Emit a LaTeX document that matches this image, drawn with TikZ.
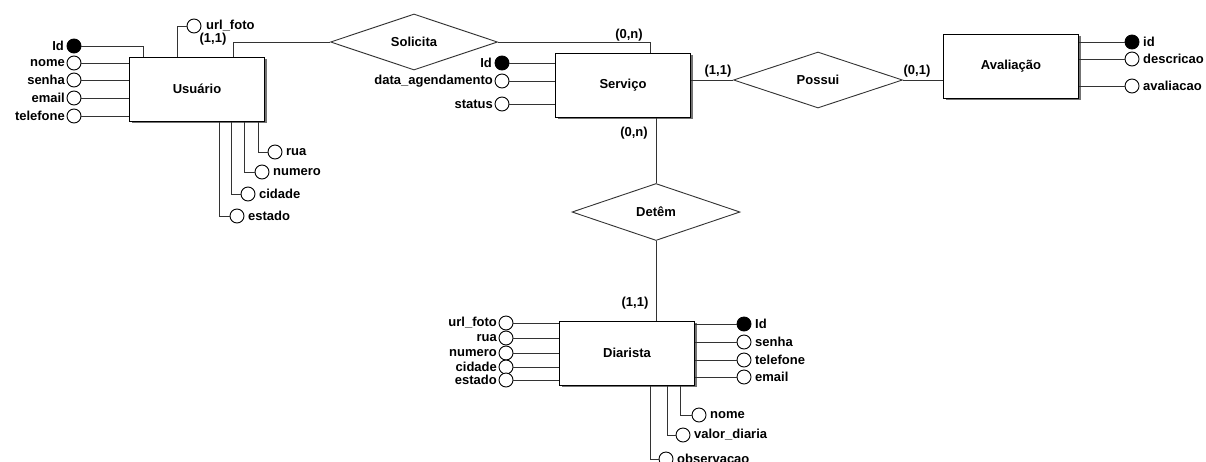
\documentclass[tikz,border=0pt]{standalone}
\usepackage{fontspec}
\setmainfont{Liberation Sans}
\usetikzlibrary{shapes.geometric,shadows,calc}
\definecolor{linec}{HTML}{333333}
\begin{document}
\begin{tikzpicture}[x=1pt,y=-1pt,
  font=\bfseries\fontsize{13}{13}\selectfont,
  entity/.style={draw=black,line width=1pt,fill=white,minimum width=135pt,minimum height=64pt,inner sep=0pt,
    drop shadow={shadow xshift=2pt,shadow yshift=-2pt,fill=black,opacity=0.55}},
  rel/.style={diamond,draw=linec,line width=0.9pt,fill=white,inner sep=0pt,aspect=3},
  attr/.style={circle,draw=black,line width=0.9pt,fill=white,minimum size=14pt,inner sep=0pt},
  key/.style={attr,fill=black},
  conn/.style={draw=linec,line width=0.9pt},
  lbl/.style={inner sep=0.5pt},
  card/.style={inner sep=0pt}
]
\useasboundingbox (0,0) rectangle (1206,461);
% entities
\node[entity] (usu) at (197,89) {Usuário};
\node[entity] (serv) at (623,85) {Serviço};
\node[entity] (aval) at (1011,66) {Avaliação};
\node[entity] (diar) at (627,353) {Diarista};
% relationships
\node[rel,minimum width=167pt,minimum height=56pt] (sol) at (414,42) {Solicita};
\node[rel,minimum width=169pt,minimum height=56pt] (pos) at (818,80) {Possui};
\node[rel,minimum width=168pt,minimum height=57pt] (det) at (656,212) {Detêm};
% Usuario attributes
\node[key,label={[lbl,label distance=2pt]left:Id}] (uid) at (74,46) {};
\node[attr,label={[lbl,label distance=1pt]left:nome}] (unome) at (74,63) {};
\node[attr,label={[lbl,label distance=1pt]left:senha}] (usenha) at (74,80) {};
\node[attr,label={[lbl,label distance=1pt]left:email}] (uemail) at (74,98) {};
\node[attr,label={[lbl,label distance=1pt]left:telefone}] (utel) at (74,116) {};
\node[attr,label={[lbl,label distance=4pt]right:url\_foto}] (uurl) at (194,26) {};
\node[attr,label={[lbl,label distance=3pt]right:rua}] (urua) at (275,152) {};
\node[attr,label={[lbl,label distance=3pt]right:numero}] (unum) at (262,172) {};
\node[attr,label={[lbl,label distance=3pt]right:cidade}] (ucid) at (248,194) {};
\node[attr,label={[lbl,label distance=3pt]right:estado}] (uest) at (237,216) {};
\draw[conn] (uid.east) -| ([xshift=14pt]usu.north west);
\foreach \a in {unome,usenha,uemail,utel} \draw[conn] (\a.east) -- (\a.east -| usu.west);
\draw[conn] (uurl.west) -| ([xshift=48pt]usu.north west);
\draw[conn] ([xshift=129pt]usu.south west) |- (urua.west);
\draw[conn] ([xshift=115pt]usu.south west) |- (unum.west);
\draw[conn] ([xshift=102pt]usu.south west) |- (ucid.west);
\draw[conn] ([xshift=90pt]usu.south west) |- (uest.west);
% Servico attributes
\node[key,label={[lbl,label distance=2pt]left:Id}] (sid) at (502,63) {};
\node[attr,label={[lbl,label distance=1pt]left:data\_agendamento}] (sdata) at (502,81) {};
\node[attr,label={[lbl,label distance=1pt]left:status}] (sstat) at (502,104) {};
\foreach \a in {sid,sdata,sstat} \draw[conn] (\a.east) -- (\a.east -| serv.west);
% Avaliacao attributes
\node[key,label={[lbl,label distance=3pt]right:id}] (aid) at (1132,42) {};
\node[attr,label={[lbl,label distance=3pt]right:descricao}] (adesc) at (1132,59) {};
\node[attr,label={[lbl,label distance=3pt]right:avaliacao}] (aaval) at (1132,86) {};
\foreach \a in {aid,adesc,aaval} \draw[conn] (\a.west) -- (\a.west -| aval.east);
% Diarista attributes
\node[attr,label={[lbl,label distance=1pt]left:url\_foto}] (durl) at (506,323) {};
\node[attr,label={[lbl,label distance=1pt]left:rua}] (drua) at (506,338) {};
\node[attr,label={[lbl,label distance=1pt]left:numero}] (dnum) at (506,353) {};
\node[attr,label={[lbl,label distance=1pt]left:cidade}] (dcid) at (506,367) {};
\node[attr,label={[lbl,label distance=1pt]left:estado}] (dest) at (506,380) {};
\foreach \a in {durl,drua,dnum,dcid,dest} \draw[conn] (\a.east) -- (\a.east -| diar.west);
\node[key,label={[lbl,label distance=3pt]right:Id}] (did) at (744,324) {};
\node[attr,label={[lbl,label distance=3pt]right:senha}] (dsenha) at (744,342) {};
\node[attr,label={[lbl,label distance=3pt]right:telefone}] (dtel) at (744,360) {};
\node[attr,label={[lbl,label distance=3pt]right:email}] (demail) at (744,377) {};
\foreach \a in {did,dsenha,dtel,demail} \draw[conn] (\a.west) -- (\a.west -| diar.east);
\node[attr,label={[lbl,label distance=3pt]right:nome}] (dnome) at (699,415) {};
\node[attr,label={[lbl,label distance=3pt]right:valor\_diaria}] (dval) at (683,435) {};
\node[attr,label={[lbl,label distance=3pt]right:observacao}] (dobs) at (666,459) {};
\draw[conn] ([xshift=121pt]diar.south west) |- (dnome.west);
\draw[conn] ([xshift=108pt]diar.south west) |- (dval.west);
\draw[conn] ([xshift=91pt]diar.south west) |- (dobs.west);
% relationship connectors
\draw[conn] ([xshift=104pt]usu.north west) |- (sol.west);
\draw[conn] (sol.east) -| ([xshift=95pt]serv.north west);
\draw[conn] (pos.west) -- (pos.west -| serv.east);
\draw[conn] (pos.east) -- (pos.east -| aval.west);
\draw[conn] (det.north) -- (det.north |- serv.south);
\draw[conn] (det.south) -- (det.south |- diar.north);
% cardinalities
\node[card] (c1) at (213,39) {(1,1)};
\node[card] (c2) at (629,35) {(0,n)};
\node[card] (c3) at (718,71) {(1,1)};
\node[card] (c4) at (917,71) {(0,1)};
\node[card] (c5) at (634,133) {(0,n)};
\node[card] (c6) at (635,303) {(1,1)};
\end{tikzpicture}
\end{document}
